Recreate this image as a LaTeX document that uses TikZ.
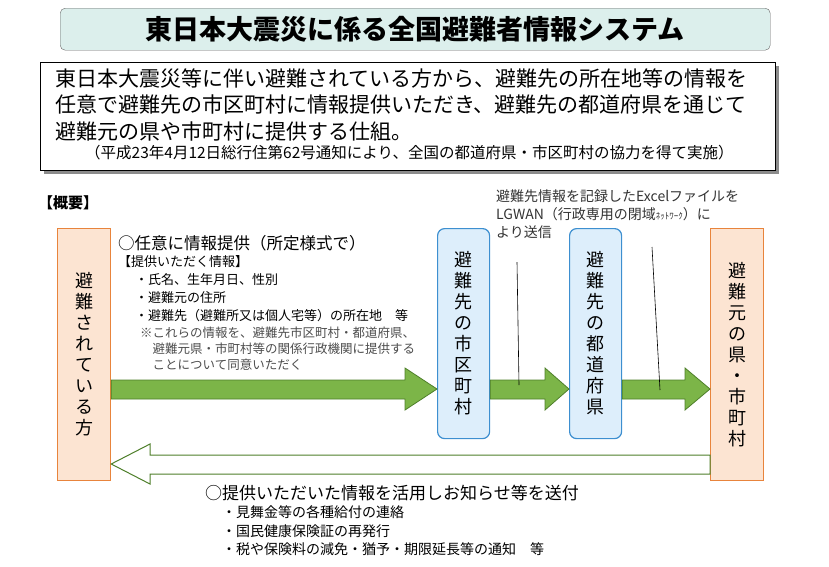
\documentclass[tikz,border=0pt]{standalone}
\usepackage{fontspec}
\setmainfont{Noto Sans CJK JP}
\usetikzlibrary{calc}
\definecolor{orgfill}{HTML}{FCE4D2}
\definecolor{orgline}{HTML}{E8843C}
\definecolor{bluefill}{HTML}{DDEEFB}
\definecolor{blueline}{HTML}{3D8FD0}
\definecolor{grn}{HTML}{7CB548}
\definecolor{grnline}{HTML}{4E7F2A}
\definecolor{titlefill}{HTML}{DCEFEC}
\tikzset{
 orgbox/.style={draw=orgline,fill=orgfill,line width=1.2pt,minimum width=53pt,minimum height=252pt,anchor=north west,align=center,font=\fontsize{18}{21}\selectfont},
 bluebox/.style={draw=blueline,fill=bluefill,line width=1.2pt,rounded corners=7pt,minimum width=52pt,minimum height=210pt,anchor=north west,align=center,font=\fontsize{18}{21}\selectfont},
 garrow/.style={fill=grn,draw=grnline,line width=0.8pt},
 warrow/.style={fill=white,draw=grnline,line width=1pt},
 txt/.style={anchor=west,inner sep=0pt},
}
\begin{document}
\begin{tikzpicture}[x=1pt,y=-1pt]
\useasboundingbox (0,0) rectangle (829,566);
% title
\node[draw=black!60,fill=titlefill,rounded corners=5pt,minimum width=710pt,minimum height=42pt,anchor=north west,font=\fontsize{27}{30}\selectfont\bfseries] (title) at (60,8) {東日本大震災に係る全国避難者情報システム};
% description
\fill[black!45] (44,66) rectangle (779,174);
\node[draw=black,fill=white,line width=0.8pt,minimum width=735pt,minimum height=108pt,anchor=north west] (desc) at (40,62) {};
\node[txt,font=\fontsize{21}{24}\selectfont] (d1) at (55,79) {東日本大震災等に伴い避難されている方から、避難先の所在地等の情報を};
\node[txt,font=\fontsize{21}{24}\selectfont] (d2) at (55,105) {任意で避難先の市区町村に情報提供いただき、避難先の都道府県を通じて};
\node[txt,font=\fontsize{21}{24}\selectfont] (d3) at (55,131) {避難元の県や市町村に提供する仕組。};
\node[txt,font=\fontsize{15.5}{17}\selectfont] (d4) at (85,153) {（平成23年4月12日総行住第62号通知により、全国の都道府県・市区町村の協力を得て実施）};
\node[txt,font=\fontsize{15}{17}\selectfont\bfseries] (gai) at (38,203) {【概要】};
% boxes
\node[orgbox] (L) at (57,228) {避\\難\\さ\\れ\\て\\い\\る\\方};
\node[orgbox] (R) at (710,228) {避\\難\\元\\の\\県\\・\\市\\町\\村};
\node[bluebox] (B1) at (437,228) {避\\難\\先\\の\\市\\区\\町\\村};
\node[bluebox] (B2) at (569,228) {避\\難\\先\\の\\都\\道\\府\\県};
% arrows
\draw[garrow] (L.east|-0,380) -- (405,380) -- (405,368) -- (B1.west|-0,389) -- (405,410) -- (405,399) -- (L.east|-0,399) -- cycle;
\draw[garrow] (B1.east|-0,380) -- (545,380) -- (545,368) -- (B2.west|-0,389) -- (545,410) -- (545,399) -- (B1.east|-0,399) -- cycle;
\draw[garrow] (B2.east|-0,380) -- (685,380) -- (685,368) -- (R.west|-0,389) -- (685,410) -- (685,399) -- (B2.east|-0,399) -- cycle;
\draw[warrow] (R.west|-0,455) -- (150,455) -- (150,444) -- (L.east|-0,464) -- (150,484) -- (150,474) -- (R.west|-0,474) -- cycle;
% upper text
\node[txt,font=\fontsize{16.5}{18}\selectfont] (t1) at (118,243) {○任意に情報提供（所定様式で）};
\node[txt,font=\fontsize{13}{15}\selectfont] (t2) at (118,262) {【提供いただく情報】};
\node[txt,font=\fontsize{13}{15}\selectfont] (t3) at (135,280) {・氏名、生年月日、性別};
\node[txt,font=\fontsize{13}{15}\selectfont] (t4) at (135,298) {・避難元の住所};
\node[txt,font=\fontsize{13}{15}\selectfont] (t5) at (135,316) {・避難先（避難所又は個人宅等）の所在地　等};
\node[txt,anchor=north west,align=left,font=\fontsize{12.5}{16}\selectfont,text=black!70] (t6) at (140,327) {※これらの情報を、避難先市区町村・都道府県、\\\hspace{1em}避難元県・市町村等の関係行政機関に提供する\\\hspace{1em}ことについて同意いただく};
% callout
\node[anchor=north west,align=left,inner sep=0pt,font=\fontsize{14}{18}\selectfont,text=black!80] (c) at (496,190) {避難先情報を記録したExcelファイルを\\LGWAN（行政専用の閉域{\fontsize{9}{10}\selectfont ﾈｯﾄﾜｰｸ}）に\\より送信};
\coordinate (c1a) at (517,262);
\coordinate (c1b) at (519,385);
\coordinate (c2a) at (652,247);
\coordinate (c2b) at (660,390);
\draw[line width=0.6pt] (c1a) -- (c1b);
\draw[line width=0.6pt] (c2a) -- (c2b);
% lower text
\node[txt,font=\fontsize{17}{19}\selectfont] (b1) at (205,493) {○提供いただいた情報を活用しお知らせ等を送付};
\node[txt,font=\fontsize{14}{16}\selectfont] (b2) at (222,512) {・見舞金等の各種給付の連絡};
\node[txt,font=\fontsize{14}{16}\selectfont] (b3) at (222,531) {・国民健康保険証の再発行};
\node[txt,font=\fontsize{14}{16}\selectfont] (b4) at (222,549) {・税や保険料の減免・猶予・期限延長等の通知　等};
\end{tikzpicture}
\end{document}
